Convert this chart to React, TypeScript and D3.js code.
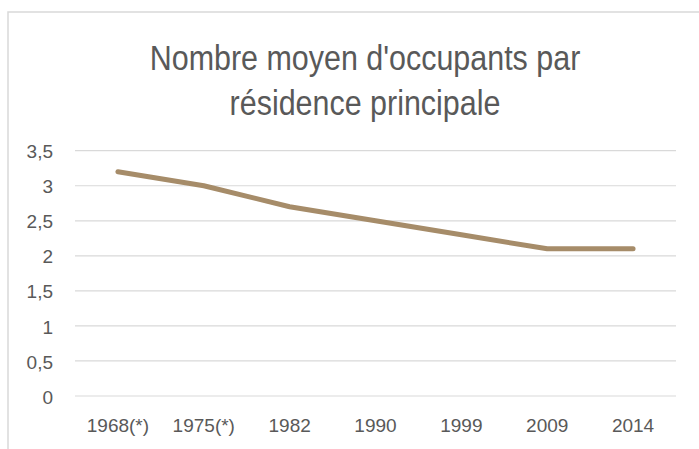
import React from "react";
import * as d3 from "d3";

const categories = ["1968(*)", "1975(*)", "1982", "1990", "1999", "2009", "2014"];
const values = [3.2, 3.0, 2.7, 2.5, 2.3, 2.1, 2.1];
const yTicks = [0, 0.5, 1, 1.5, 2, 2.5, 3, 3.5];
const titleLines = ["Nombre moyen d'occupants par", "résidence principale"];

export default function App() {
  const W = 699, H = 449;
  const left = 75, right = 676, top = 150.7, bottom = 396;
  const x = d3.scaleBand().domain(categories).range([left, right]);
  const y = d3.scaleLinear().domain([0, 3.5]).range([bottom, top]);
  const line = d3.line<number>()
    .x((_, i) => (x(categories[i]) as number) + x.bandwidth() / 2)
    .y((d) => y(d));
  const fmt = (v: number) => String(v).replace(".", ",");
  const cx = 365;
  return (
    <svg width={W} height={H} style={{ position: "absolute", left: 0, top: 0 }}
      fontFamily="'Liberation Sans', Arial, sans-serif">
      <rect x={0} y={0} width={W} height={H} fill="#fff" />
      <rect x={8} y={12} width={W + 10} height={H + 10} fill="#fff" stroke="#d9d9d9" strokeWidth={1.5} />
      <g transform={`translate(${cx},0) scale(0.87,1)`}>
        {titleLines.map((t, i) => (
          <text key={i} x={0} y={70 + i * 45} textAnchor="middle" fontSize={35} fill="#595959">{t}</text>
        ))}
      </g>
      {yTicks.map((t) => (
        <g key={t}>
          <line x1={left} x2={right} y1={y(t)} y2={y(t)} stroke="#d9d9d9" strokeWidth={1.2} />
          <text x={53} y={y(t)} dy="0.4em" textAnchor="end" fontSize={19} fill="#595959">{fmt(t)}</text>
        </g>
      ))}
      {categories.map((c) => (
        <text key={c} x={(x(c) as number) + x.bandwidth() / 2} y={432} textAnchor="middle" fontSize={19} fill="#595959">{c}</text>
      ))}
      <path d={line(values) || ""} fill="none" stroke="#a68c69" strokeWidth={5} strokeLinecap="round" strokeLinejoin="round" />
    </svg>
  );
}
